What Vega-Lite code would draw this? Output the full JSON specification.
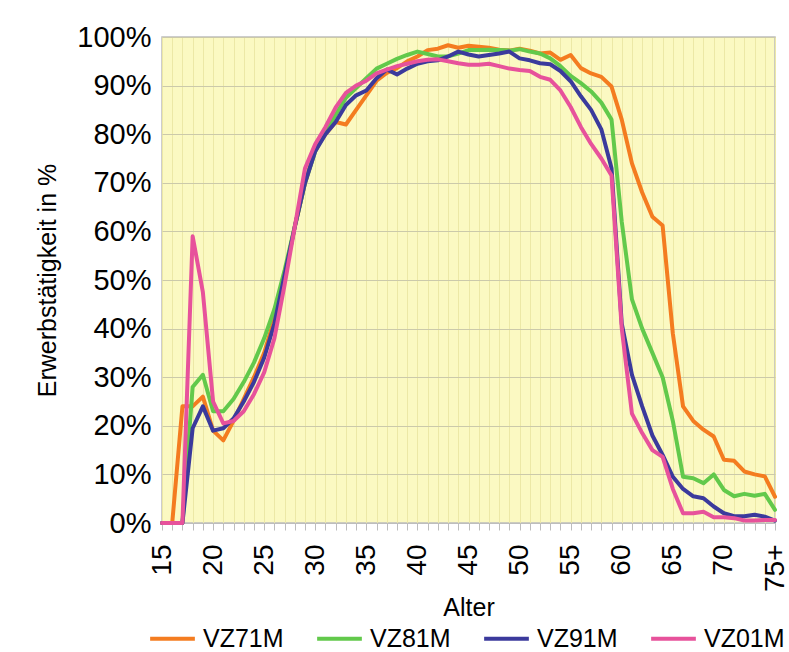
{
  "$schema": "https://vega.github.io/schema/vega-lite/v6.json",
  "width": 613,
  "height": 486,
  "autosize": {"type": "none"},
  "padding": {"left": 162, "top": 37, "right": 14, "bottom": 129},
  "background": "white",
  "config": {
    "font": "Liberation Sans",
    "view": {"fill": "#FBF9C2", "stroke": "#BDBDBD", "strokeWidth": 1.5}
  },
  "data": {
    "values": [
      {"Alter": 15, "VZ71M": 0, "VZ81M": 0, "VZ91M": 0, "VZ01M": 0},
      {"Alter": 16, "VZ71M": 0, "VZ81M": 0, "VZ91M": 0, "VZ01M": 0},
      {"Alter": 17, "VZ71M": 24, "VZ81M": 0, "VZ91M": 0, "VZ01M": 0},
      {"Alter": 18, "VZ71M": 24, "VZ81M": 28, "VZ91M": 19.5, "VZ01M": 59},
      {"Alter": 19, "VZ71M": 26, "VZ81M": 30.5, "VZ91M": 24, "VZ01M": 47.5},
      {"Alter": 20, "VZ71M": 19, "VZ81M": 23, "VZ91M": 19, "VZ01M": 25},
      {"Alter": 21, "VZ71M": 17, "VZ81M": 23, "VZ91M": 19.5, "VZ01M": 20.5},
      {"Alter": 22, "VZ71M": 21, "VZ81M": 25.5, "VZ91M": 21.5, "VZ01M": 21},
      {"Alter": 23, "VZ71M": 25.5, "VZ81M": 29, "VZ91M": 25, "VZ01M": 23},
      {"Alter": 24, "VZ71M": 30, "VZ81M": 33, "VZ91M": 29, "VZ01M": 26.5},
      {"Alter": 25, "VZ71M": 35, "VZ81M": 38, "VZ91M": 34, "VZ01M": 31},
      {"Alter": 26, "VZ71M": 42, "VZ81M": 44, "VZ91M": 41, "VZ01M": 38},
      {"Alter": 27, "VZ71M": 51, "VZ81M": 52, "VZ91M": 51, "VZ01M": 49},
      {"Alter": 28, "VZ71M": 61, "VZ81M": 61, "VZ91M": 61, "VZ01M": 61},
      {"Alter": 29, "VZ71M": 70, "VZ81M": 70, "VZ91M": 70, "VZ01M": 73},
      {"Alter": 30, "VZ71M": 77, "VZ81M": 76.5, "VZ91M": 76.5, "VZ01M": 78},
      {"Alter": 31, "VZ71M": 80, "VZ81M": 80.5, "VZ91M": 80, "VZ01M": 81.5},
      {"Alter": 32, "VZ71M": 82.5, "VZ81M": 84, "VZ91M": 82.5, "VZ01M": 85.5},
      {"Alter": 33, "VZ71M": 82, "VZ81M": 87.5, "VZ91M": 86, "VZ01M": 88.5},
      {"Alter": 34, "VZ71M": 85, "VZ81M": 89.5, "VZ91M": 88, "VZ01M": 90},
      {"Alter": 35, "VZ71M": 88, "VZ81M": 91.5, "VZ91M": 89, "VZ01M": 91},
      {"Alter": 36, "VZ71M": 91, "VZ81M": 93.5, "VZ91M": 91.5, "VZ01M": 92.5},
      {"Alter": 37, "VZ71M": 92.6, "VZ81M": 94.5, "VZ91M": 93.3, "VZ01M": 93.3},
      {"Alter": 38, "VZ71M": 93.6, "VZ81M": 95.5, "VZ91M": 92.3, "VZ01M": 94},
      {"Alter": 39, "VZ71M": 95, "VZ81M": 96.3, "VZ91M": 93.5, "VZ01M": 94.5},
      {"Alter": 40, "VZ71M": 96, "VZ81M": 97, "VZ91M": 94.5, "VZ01M": 95},
      {"Alter": 41, "VZ71M": 97.3, "VZ81M": 96.5, "VZ91M": 95, "VZ01M": 95.3},
      {"Alter": 42, "VZ71M": 97.6, "VZ81M": 96, "VZ91M": 95.2, "VZ01M": 95.4},
      {"Alter": 43, "VZ71M": 98.3, "VZ81M": 96, "VZ91M": 96, "VZ01M": 95},
      {"Alter": 44, "VZ71M": 97.8, "VZ81M": 96.6, "VZ91M": 97, "VZ01M": 94.6},
      {"Alter": 45, "VZ71M": 98.2, "VZ81M": 97.3, "VZ91M": 96.4, "VZ01M": 94.3},
      {"Alter": 46, "VZ71M": 98, "VZ81M": 97.3, "VZ91M": 96, "VZ01M": 94.3},
      {"Alter": 47, "VZ71M": 97.8, "VZ81M": 97.4, "VZ91M": 96.3, "VZ01M": 94.5},
      {"Alter": 48, "VZ71M": 97.4, "VZ81M": 97.3, "VZ91M": 96.6, "VZ01M": 94},
      {"Alter": 49, "VZ71M": 97.2, "VZ81M": 97.2, "VZ91M": 97, "VZ01M": 93.5},
      {"Alter": 50, "VZ71M": 97.6, "VZ81M": 97.5, "VZ91M": 95.6, "VZ01M": 93.2},
      {"Alter": 51, "VZ71M": 97.2, "VZ81M": 97, "VZ91M": 95.2, "VZ01M": 93},
      {"Alter": 52, "VZ71M": 96.6, "VZ81M": 96.6, "VZ91M": 94.6, "VZ01M": 91.8},
      {"Alter": 53, "VZ71M": 96.8, "VZ81M": 95.6, "VZ91M": 94.4, "VZ01M": 91.2},
      {"Alter": 54, "VZ71M": 95.3, "VZ81M": 94, "VZ91M": 93, "VZ01M": 89},
      {"Alter": 55, "VZ71M": 96.3, "VZ81M": 92, "VZ91M": 90.9, "VZ01M": 85.6},
      {"Alter": 56, "VZ71M": 93.6, "VZ81M": 90.5, "VZ91M": 87.8, "VZ01M": 81.5},
      {"Alter": 57, "VZ71M": 92.5, "VZ81M": 88.8, "VZ91M": 85, "VZ01M": 78},
      {"Alter": 58, "VZ71M": 91.8, "VZ81M": 86.5, "VZ91M": 81, "VZ01M": 75},
      {"Alter": 59, "VZ71M": 89.8, "VZ81M": 83, "VZ91M": 73, "VZ01M": 71.5},
      {"Alter": 60, "VZ71M": 83, "VZ81M": 62, "VZ91M": 41, "VZ01M": 40},
      {"Alter": 61, "VZ71M": 74, "VZ81M": 46, "VZ91M": 30.5, "VZ01M": 22.5},
      {"Alter": 62, "VZ71M": 68, "VZ81M": 40, "VZ91M": 24, "VZ01M": 18.5},
      {"Alter": 63, "VZ71M": 63, "VZ81M": 35, "VZ91M": 18, "VZ01M": 15},
      {"Alter": 64, "VZ71M": 61.2, "VZ81M": 30, "VZ91M": 14, "VZ01M": 13.6},
      {"Alter": 65, "VZ71M": 39, "VZ81M": 21, "VZ91M": 9.5, "VZ01M": 7},
      {"Alter": 66, "VZ71M": 24, "VZ81M": 9.5, "VZ91M": 7, "VZ01M": 2},
      {"Alter": 67, "VZ71M": 21, "VZ81M": 9.2, "VZ91M": 5.5, "VZ01M": 2},
      {"Alter": 68, "VZ71M": 19.2, "VZ81M": 8.2, "VZ91M": 5.1, "VZ01M": 2.3},
      {"Alter": 69, "VZ71M": 17.8, "VZ81M": 10, "VZ91M": 3.4, "VZ01M": 1.2},
      {"Alter": 70, "VZ71M": 13, "VZ81M": 6.8, "VZ91M": 2, "VZ01M": 1.2},
      {"Alter": 71, "VZ71M": 12.8, "VZ81M": 5.5, "VZ91M": 1.4, "VZ01M": 1},
      {"Alter": 72, "VZ71M": 10.6, "VZ81M": 6, "VZ91M": 1.4, "VZ01M": 0.5},
      {"Alter": 73, "VZ71M": 10, "VZ81M": 5.6, "VZ91M": 1.7, "VZ01M": 0.5},
      {"Alter": 74, "VZ71M": 9.6, "VZ81M": 6, "VZ91M": 1.3, "VZ01M": 0.6},
      {"Alter": 75, "VZ71M": 5.4, "VZ81M": 2.7, "VZ91M": 0.5, "VZ01M": 0.6}
    ]
  },
  "transform": [
    {"fold": ["VZ71M", "VZ81M", "VZ91M", "VZ01M"], "as": ["Serie", "Wert"]}
  ],
  "mark": {"type": "line", "strokeWidth": 4, "strokeJoin": "round", "strokeCap": "round"},
  "encoding": {
    "x": {
      "field": "Alter",
      "type": "quantitative",
      "scale": {"domain": [15, 75], "nice": false, "zero": false},
      "axis": {
        "values": [15,16,17,18,19,20,21,22,23,24,25,26,27,28,29,30,31,32,33,34,35,36,37,38,39,40,41,42,43,44,45,46,47,48,49,50,51,52,53,54,55,56,57,58,59,60,61,62,63,64,65,66,67,68,69,70,71,72,73,74,75],
        "labelExpr": "datum.value % 5 == 0 ? (datum.value == 75 ? '75+' : datum.label) : ''",
        "labelAngle": 270,
        "labelAlign": "right",
        "labelBaseline": "middle",
        "labelFontSize": 28,
        "labelColor": "#000000",
        "labelPadding": 14,
        "labelFlush": false,
        "labelOverlap": false,
        "tickSize": 7,
        "tickColor": "#BDBDBD",
        "domainColor": "#BDBDBD",
        "grid": true,
        "gridColor": "#ECE8A6",
        "gridWidth": 1,
        "title": "Alter",
        "titleFontSize": 25,
        "titleFontWeight": "normal",
        "titleColor": "#000000",
        "titlePadding": 4
      }
    },
    "y": {
      "field": "Wert",
      "type": "quantitative",
      "scale": {"domain": [0, 100], "nice": false},
      "axis": {
        "values": [0, 10, 20, 30, 40, 50, 60, 70, 80, 90, 100],
        "labelExpr": "datum.value + '%'",
        "labelFontSize": 29,
        "labelColor": "#000000",
        "labelPadding": 11,
        "labelFlush": false,
        "ticks": false,
        "domain": false,
        "grid": true,
        "gridColor": "#CBC9AA",
        "gridWidth": 1.2,
        "title": "Erwerbstätigkeit in %",
        "titleFontSize": 25,
        "titleFontWeight": "normal",
        "titleColor": "#000000",
        "titlePadding": 16
      }
    },
    "color": {
      "field": "Serie",
      "type": "nominal",
      "scale": {
        "domain": ["VZ71M", "VZ81M", "VZ91M", "VZ01M"],
        "range": ["#F47C20", "#62C94B", "#3B3A9C", "#E7529B"]
      },
      "legend": {
        "orient": "none",
        "legendX": -14,
        "legendY": 577,
        "direction": "horizontal",
        "columns": 4,
        "title": null,
        "symbolType": "stroke",
        "symbolSize": 2000,
        "symbolStrokeWidth": 4,
        "labelFontSize": 25,
        "labelColor": "#000000",
        "labelOffset": 6,
        "columnPadding": 25,
        "labelLimit": 200
      }
    }
  }
}
